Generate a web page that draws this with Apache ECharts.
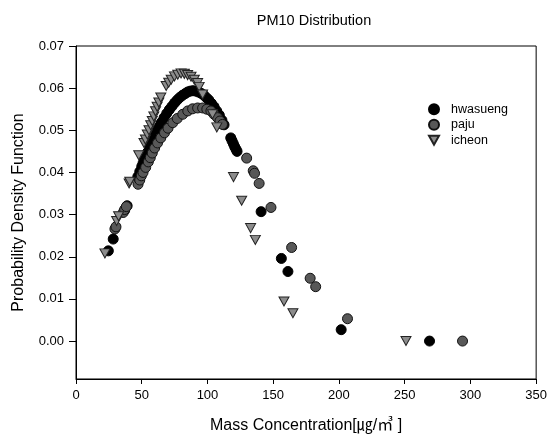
<!DOCTYPE html>
<html>
<head>
<meta charset="utf-8">
<script src="https://cdn.jsdelivr.net/npm/echarts@6/dist/echarts.min.js"></script>
<style>html,body{margin:0;padding:0;background:#fff;}#c{width:550px;height:439px;}</style>
</head>
<body>
<div id="c"></div>
<script>
var seriesNames = ['hwasueng', 'paju', 'icheon'];
var hwasueng = [
  [24.6,0.0214],[28.3,0.0242],[37.1,0.0311],[38.9,0.0321],[47,0.0390],[48.5,0.0402],[50,0.0414],
  [51,0.0422],[52,0.0430],[53,0.0437],[54.5,0.0448],[56,0.0459],[57.5,0.0469],[59,0.0480],
  [60.5,0.0490],[62,0.0500],[63.5,0.0510],[65,0.0519],[67,0.0530],[69,0.0540],[71,0.0549],
  [73,0.0557],[75,0.0565],[77,0.0572],[79,0.0578],[81,0.0583],[83,0.0587],[85,0.0591],
  [87,0.0593],[89,0.0594],[91,0.0593],[93,0.0591],[95,0.0588],[97,0.0584],[99,0.0578],
  [101,0.0572],[103,0.0564],[105,0.0556],[107,0.0546],[109,0.0536],[111,0.0524],[112.6,0.0513],
  [117.7,0.0482],[118.7,0.0475],[119.7,0.0468],[120.7,0.0461],[121.7,0.0455],[122.5,0.0450],
  [140.8,0.0307],[156.2,0.0196],[161.2,0.0165],[201.7,0.0027],[268.9,0.0]
];
var paju = [
  [29.6,0.0266],[30.4,0.0271],[35.9,0.0305],[37.0,0.0312],[38.3,0.0319],[47.2,0.0372],[48.5,0.0382],
  [49.7,0.0392],[51,0.0400],[53,0.0412],[55,0.0425],[56.5,0.0435],[58,0.0446],[59.8,0.0458],
  [62,0.0470],[64.5,0.0482],[67.3,0.0494],[70,0.0505],[73.6,0.0518],[77,0.0528],[81.2,0.0538],
  [85,0.0546],[88.7,0.0551],[92.5,0.0553],[96.3,0.0553],[99.5,0.0550],[102.6,0.0546],[105,0.0538],
  [107.6,0.0530],[109.5,0.0522],[111.4,0.0514],[129.8,0.0434],[134.8,0.0404],[135.8,0.0398],
  [139.3,0.0374],[148.3,0.0317],[164,0.0222],[178.1,0.0149],[182.3,0.0129],[206.5,0.0053],[294,0.0]
];
var icheon = [
  [22,0.0208],[30.9,0.0285],[32.4,0.0296],[40.4,0.0374],[40.9,0.0378],[47.7,0.0441],[51.7,0.0470],
  [52.8,0.0478],[54.2,0.0490],[55.5,0.0500],[56.8,0.0512],[58.0,0.0522],[59.2,0.0533],[60.5,0.0545],
  [61.7,0.0556],[63.0,0.0566],[64.5,0.0578],[68.6,0.0605],[70.5,0.0613],[72.4,0.0620],[74.9,0.0628],
  [77.4,0.0632],[79.9,0.0635],[82.4,0.0634],[84.9,0.0631],[87.5,0.0627],[90,0.0620],[92.5,0.0612],
  [93.7,0.0603],[96.3,0.0585],[103.8,0.0538],[107.1,0.0507],[119.8,0.0389],[126,0.0333],
  [132.8,0.0268],[136.4,0.0240],[158.2,0.0094],[165,0.0066],[251,0.0]
];
var yTicks = [0, 0.01, 0.02, 0.03, 0.04, 0.05, 0.06, 0.07];
var xTicks = [0, 50, 100, 150, 200, 250, 300, 350];

var font = '"Liberation Sans", Arial, "Noto Sans CJK KR", sans-serif';
var downTri = 'path://M0,0 L10,0 L5,9 Z';
var chart = echarts.init(document.getElementById('c'), null, {renderer: 'canvas'});
chart.setOption({
  animation: false,
  backgroundColor: '#fff',
  title: {
    text: 'PM10 Distribution', left: 309, top: 9, textAlign: 'center',
    textStyle: {fontFamily: font, fontSize: 14.5, fontWeight: 'normal', color: '#000'}
  },
  legend: {
    orient: 'vertical', left: 423, top: 98, itemGap: 3, itemWidth: 10, itemHeight: 10,
    textStyle: {fontFamily: font, fontSize: 12.5, lineHeight: 12, color: '#000', padding: [0, 0, 0, 7]},
    data: [
      {name: seriesNames[0], icon: 'circle'},
      {name: seriesNames[1], icon: 'circle'},
      {name: seriesNames[2], icon: downTri}
    ]
  },
  grid: {left: 76, right: 11, top: 46, bottom: 60, show: true, borderColor: '#000', borderWidth: 1, backgroundColor: 'transparent'},
  xAxis: {
    type: 'value', min: 0, max: 350, interval: 50,
    name: 'Mass Concentration[㎍/㎥ ]', nameLocation: 'middle', nameGap: 39,
    nameTextStyle: {fontFamily: font, fontSize: 16, color: '#000'},
    axisLine: {show: true, onZero: false, lineStyle: {color: '#000', width: 1}},
    axisTick: {show: true, inside: false, length: 5, lineStyle: {color: '#000'}},
    axisLabel: {fontFamily: font, fontSize: 13, color: '#000', margin: 10},
    splitLine: {show: false}
  },
  yAxis: {
    type: 'value', min: -0.009, max: 0.07,
    name: 'Probability Density Function', nameLocation: 'middle', nameGap: 49, nameRotate: 90,
    nameTextStyle: {fontFamily: font, fontSize: 16, color: '#000'},
    axisLine: {show: true, onZero: false, lineStyle: {color: '#000', width: 1}},
    axisTick: {show: true, inside: false, length: 7, customValues: yTicks, lineStyle: {color: '#000'}},
    axisLabel: {fontFamily: font, fontSize: 13, color: '#000', margin: 12, customValues: yTicks,
      formatter: function (v) { return v.toFixed(2); }},
    splitLine: {show: false}
  },
  series: [
    {name: seriesNames[0], type: 'scatter', data: hwasueng, symbol: 'circle', symbolSize: 10,
      itemStyle: {color: '#000', borderColor: '#000', borderWidth: 1, opacity: 1}},
    {name: seriesNames[1], type: 'scatter', data: paju, symbol: 'circle', symbolSize: 10,
      itemStyle: {color: '#585858', borderColor: '#111', borderWidth: 1, opacity: 1}},
    {name: seriesNames[2], type: 'scatter', data: icheon, symbol: downTri, symbolSize: [10, 9],
      itemStyle: {color: '#8c8c8c', borderColor: '#222', borderWidth: 1, opacity: 1}}
  ]
});
</script>
</body>
</html>
